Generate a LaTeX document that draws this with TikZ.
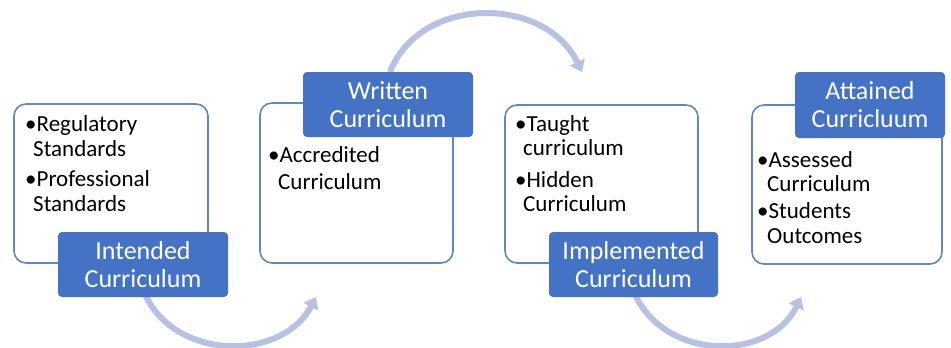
\documentclass[tikz,border=0pt]{standalone}
\usepackage{fontspec}
\setmainfont{Carlito}
\usetikzlibrary{arrows.meta}
\definecolor{lblblue}{HTML}{4472C4}
\definecolor{boxline}{HTML}{5F86CB}
\definecolor{arcc}{HTML}{B7C1E4}
\tikzset{
  contentbox/.style={draw=boxline, line width=1.6pt, fill=white, rounded corners=12pt, inner sep=0pt},
  lblbox/.style={fill=lblblue, rounded corners=4pt, inner sep=0pt, text=white, align=center,
    font=\fontsize{26}{28}\selectfont},
  itemtext/.style={anchor=north west, inner sep=0pt, align=left, font=\fontsize{23}{25}\selectfont},
  flowarc/.style={draw=arcc, line width=6pt, -{Triangle[width=16pt,length=11pt]}}
}
\begin{document}
\begin{tikzpicture}[x=1pt,y=-1pt]
\useasboundingbox (0,0) rectangle (951,348);
% arcs (behind)
\coordinate (a1s) at (143,290);
\coordinate (a1e) at (316,297);
\coordinate (a2s) at (390,72);
\coordinate (a2e) at (582,72);
\coordinate (a3s) at (633,290);
\coordinate (a3e) at (801,297);
\draw[flowarc] (a1s) .. controls (172,362) and (282,362) .. (a1e);
\draw[flowarc] (a2s) .. controls (420,-5) and (545,-5) .. (a2e);
\draw[flowarc] (a3s) .. controls (662,362) and (770,362) .. (a3e);
% content boxes
\node[contentbox, minimum width=194pt, minimum height=159pt] (box1) at (111,183.5) {};
\node[contentbox, minimum width=193pt, minimum height=160pt] (box2) at (356.5,183) {};
\node[contentbox, minimum width=193pt, minimum height=158pt] (box3) at (601.5,184) {};
\node[contentbox, minimum width=190pt, minimum height=159pt] (box4) at (847,184.5) {};
% texts
\node[itemtext] (t1) at (25,115) {\textbullet Regulatory\\\hspace*{8pt}Standards\\[5pt]\textbullet Professional\\\hspace*{8pt}Standards};
\node[itemtext] (t2) at (268,146) {\textbullet Accredited\\[2pt]\hspace*{10pt}Curriculum};
\node[itemtext] (t3) at (515,115) {\textbullet Taught\\[-1pt]\hspace*{8pt}curriculum\\[7pt]\textbullet Hidden\\[-1pt]\hspace*{8pt}Curriculum};
\node[itemtext] (t4) at (757,151) {\textbullet Assessed\\[-1pt]\hspace*{10pt}Curriculum\\[2pt]\textbullet Students\\\hspace*{10pt}Outcomes};
% labels
\node[lblbox, minimum width=170pt, minimum height=65pt] (l1) at (143,264.5) {Intended\\Curriculum};
\node[lblbox, minimum width=170pt, minimum height=65pt] (l2) at (388,104.5) {Written\\Curriculum};
\node[lblbox, minimum width=169pt, minimum height=65pt] (l3) at (633.5,264.5) {Implemented\\Curriculum};
\node[lblbox, minimum width=150pt, minimum height=66pt] (l4) at (870,105) {Attained\\Curricluum};
\end{tikzpicture}
\end{document}
